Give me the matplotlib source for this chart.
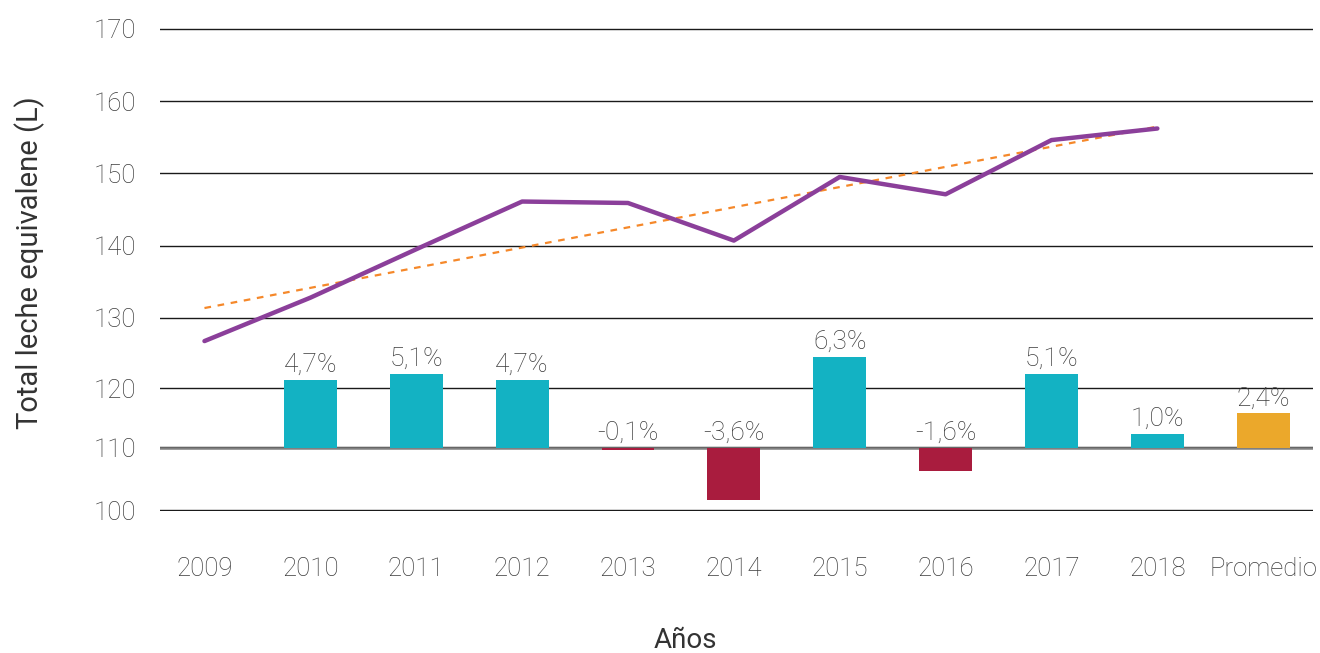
import numpy as np
import matplotlib
matplotlib.use("Agg")
import matplotlib.pyplot as plt

plt.rcParams['font.family'] = ['Roboto', 'DejaVu Sans']

categorias = ['2009', '2010', '2011', '2012', '2013', '2014', '2015',
              '2016', '2017', '2018', 'Promedio']
# litros de leche equivalente por año (2009-2018)
total_leche = [126.8, 132.8, 139.5, 146.1, 145.9, 140.7, 149.5, 147.1, 154.6, 156.2]
# variación anual en % (2010-2018) y promedio
variacion = [4.7, 5.1, 4.7, -0.1, -3.6, 6.3, -1.6, 5.1, 1.0, 2.4]
etiquetas_y = ['170', '160', '150', '140', '130', '120', '110', '100']
pos_y = [170, 160, 150, 140, 130, 120.3, 112.1, 103.4]

c_pos = '#13B2C3'
c_neg = '#A91C3E'
c_prom = '#EBA82B'
c_linea = '#8B3F9A'
c_tend = '#F5882A'
c_texto = '#3C3C3C'

fig = plt.figure(figsize=(13.2, 6.53), dpi=100)
ax = fig.add_axes([160 / 1320, 1 - 511 / 653, (1313 - 160) / 1320, (511 - 28) / 653])
ax2 = ax.twinx()

x = np.arange(len(categorias))
x_lin = x[:len(total_leche)]

# barras de variación (eje secundario, encima de la grilla)
x_bar = x[1:]
colores = [c_neg if v < 0 else c_pos for v in variacion[:-1]] + [c_prom]
ax2.axhline(0, color='#808080', lw=1.8, zorder=2)
ax2.bar(x_bar, variacion, width=0.5, color=colores, zorder=3)
for xi, v in zip(x_bar, variacion):
    top = max(v, 0)
    ax2.text(xi, top + 0.2, f"{v:.1f}%".replace('.', ','), ha='center', va='bottom',
             fontsize=19, color=c_texto, fontweight='light')
ax2.set_ylim(-4.34, 28.97)
ax2.set_yticks([])

# línea y tendencia
ax.plot(x_lin, total_leche, color=c_linea, lw=3.2, zorder=5, solid_capstyle='round')
coef = np.polyfit(x_lin, total_leche, 1)
ax.plot(x_lin, np.polyval(coef, x_lin), color=c_tend, lw=1.6, ls=(0, (3, 3)), zorder=4)

ax.set_ylim(103.3, 170.1)
ax.set_xlim(-0.42, 10.47)
ax.set_yticks(pos_y)
ax.set_yticklabels(etiquetas_y, fontweight='light')
ax.set_xticks(x)
ax.set_xticklabels(categorias, fontweight='light')
ax.grid(axis='y', color='#1A1A1A', lw=1)
ax.set_axisbelow(True)
ax.tick_params(axis='both', length=0, labelsize=18.5, labelcolor=c_texto)
ax.tick_params(axis='x', pad=33)
ax.tick_params(axis='y', pad=17)
ax2.set_zorder(ax.get_zorder() + 1)
ax2.patch.set_visible(False)
for a in (ax, ax2):
    for s in a.spines.values():
        s.set_visible(False)

fig.text(685 / 1320, 1 - 641 / 653, 'Años', ha='center', va='center',
         fontsize=20, color='#333333')
fig.text(30 / 1320, 1 - 263 / 653, 'Total leche equivalene (L)', ha='center', va='center',
         rotation=90, fontsize=21, color='#333333')

fig.savefig('out.png', dpi=100)
